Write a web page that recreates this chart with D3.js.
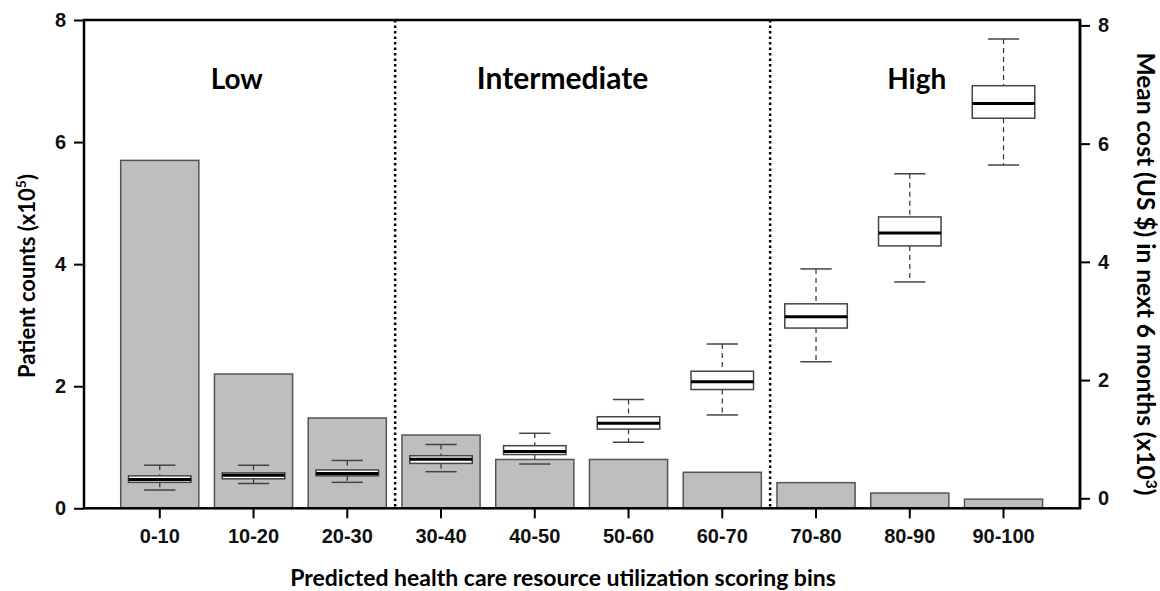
<!DOCTYPE html>
<html><head><meta charset="utf-8">
<script src="https://cdn.jsdelivr.net/npm/d3@7"></script>
<style>
html,body{margin:0;padding:0;background:#fff;}
svg{display:block;}
.ax{font-family:"Liberation Sans",Arial,sans-serif;font-weight:bold;font-size:20px;fill:#111;}
.ttl{font-family:Lato,"Open Sans",sans-serif;font-weight:bold;fill:#000;}
</style></head>
<body>
<script>
const categories = ["0-10","10-20","20-30","30-40","40-50","50-60","60-70","70-80","80-90","90-100"];
const patientCounts = [5.70, 2.20, 1.48, 1.20, 0.80, 0.80, 0.59, 0.42, 0.25, 0.15];
const costWhiskerLow = [0.14, 0.25, 0.27, 0.45, 0.58, 0.95, 1.41, 2.31, 3.66, 5.64];
const costQ1 =        [0.27, 0.33, 0.38, 0.59, 0.74, 1.17, 1.84, 2.88, 4.27, 6.43];
const costMedian =    [0.32, 0.39, 0.42, 0.66, 0.79, 1.27, 1.97, 3.07, 4.49, 6.68];
const costQ3 =        [0.38, 0.43, 0.48, 0.72, 0.89, 1.38, 2.15, 3.29, 4.76, 6.98];
const costWhiskerHigh = [0.56, 0.56, 0.64, 0.91, 1.10, 1.67, 2.61, 3.88, 5.49, 7.77];
const leftTicks = [0, 2, 4, 6, 8];
const rightTicks = [0, 2, 4, 6, 8];
const groups = ["Low", "Intermediate", "High"];
const dividerAfter = ["20-30", "60-70"];

const W = 1160, H = 591;
const svg = d3.select("body").append("svg").attr("width", W).attr("height", H);

const boxL = 84, boxR = 1080, boxT = 20, boxB = 508.3;
const x = d3.scaleBand().domain(categories).range([112.9, 1050.4]).paddingInner(1/6).paddingOuter(1/12);
const yL = d3.scaleLinear().domain([0, 8]).range([boxB, boxT]);
const yR = d3.scaleLinear().domain([0, 8]).range([498.3, 25.4]);

// bars
svg.append("g").selectAll("rect").data(categories).join("rect")
  .attr("x", d => x(d)).attr("width", x.bandwidth())
  .attr("y", (d, i) => yL(patientCounts[i]))
  .attr("height", (d, i) => yL(0) - yL(patientCounts[i]))
  .attr("fill", "#bebebe").attr("stroke", "#555").attr("stroke-width", 1.5);

// dividers
svg.append("g").selectAll("line").data(dividerAfter).join("line")
  .attr("x1", d => x(d) + x.step() * 0.5 + x.bandwidth() / 2 + 1)
  .attr("x2", d => x(d) + x.step() * 0.5 + x.bandwidth() / 2 + 1)
  .attr("y1", boxT).attr("y2", boxB)
  .attr("stroke", "#000").attr("stroke-width", 2.5).attr("stroke-dasharray", "2.5,3");

// box plots
const bw = x.bandwidth() * 0.8, sw = bw * 0.5;
const bg = svg.append("g").selectAll("g").data(categories).join("g")
  .attr("transform", d => `translate(${x(d) + x.bandwidth() / 2},0)`);
bg.append("line").attr("x1", 0).attr("x2", 0)
  .attr("y1", (d, i) => yR(costWhiskerHigh[i])).attr("y2", (d, i) => yR(costQ3[i]))
  .attr("stroke", "#333").attr("stroke-width", 1.2).attr("stroke-dasharray", "5,4");
bg.append("line").attr("x1", 0).attr("x2", 0)
  .attr("y1", (d, i) => yR(costQ1[i])).attr("y2", (d, i) => yR(costWhiskerLow[i]))
  .attr("stroke", "#333").attr("stroke-width", 1.2).attr("stroke-dasharray", "5,4");
bg.append("line").attr("x1", -sw / 2).attr("x2", sw / 2)
  .attr("y1", (d, i) => yR(costWhiskerHigh[i])).attr("y2", (d, i) => yR(costWhiskerHigh[i]))
  .attr("stroke", "#444").attr("stroke-width", 1.5);
bg.append("line").attr("x1", -sw / 2).attr("x2", sw / 2)
  .attr("y1", (d, i) => yR(costWhiskerLow[i])).attr("y2", (d, i) => yR(costWhiskerLow[i]))
  .attr("stroke", "#444").attr("stroke-width", 1.5);
bg.append("rect").attr("x", -bw / 2).attr("width", bw)
  .attr("y", (d, i) => yR(costQ3[i])).attr("height", (d, i) => yR(costQ1[i]) - yR(costQ3[i]))
  .attr("fill", "#fff").attr("stroke", "#444").attr("stroke-width", 1.5);
bg.append("line").attr("x1", -bw / 2).attr("x2", bw / 2)
  .attr("y1", (d, i) => yR(costMedian[i])).attr("y2", (d, i) => yR(costMedian[i]))
  .attr("stroke", "#000").attr("stroke-width", 3);

// frame
svg.append("rect").attr("x", boxL).attr("y", boxT).attr("width", boxR - boxL).attr("height", boxB - boxT)
  .attr("fill", "none").attr("stroke", "#000").attr("stroke-width", 2.5);

// left axis
const gl = svg.append("g").attr("class", "ax").attr("transform", `translate(${boxL},0)`)
  .call(d3.axisLeft(yL).tickValues(leftTicks).tickFormat(d3.format("d")).tickSize(10).tickPadding(8));
gl.select(".domain").remove();
gl.selectAll(".tick line").attr("stroke", "#000").attr("stroke-width", 2);
gl.selectAll("text").attr("class", "ax").attr("font-size", null).attr("font-family", null);

// right axis
const gr = svg.append("g").attr("class", "ax").attr("transform", `translate(${boxR},0)`)
  .call(d3.axisRight(yR).tickValues(rightTicks).tickFormat(d3.format("d")).tickSize(10).tickPadding(8));
gr.select(".domain").attr("stroke", "#000").attr("stroke-width", 2.5)
  .attr("d", `M0,${boxT}V${boxB}`);
gr.selectAll(".tick line").attr("stroke", "#000").attr("stroke-width", 2);
gr.selectAll("text").attr("class", "ax").attr("font-size", null).attr("font-family", null);

// bottom axis
const gb = svg.append("g").attr("class", "ax").attr("transform", `translate(0,${boxB})`)
  .call(d3.axisBottom(x).tickSize(10).tickPadding(11));
gb.select(".domain").remove();
gb.selectAll(".tick line").attr("stroke", "#000").attr("stroke-width", 2);
gb.selectAll("text").attr("class", "ax").attr("font-size", null).attr("font-family", null);

// group labels
const groupX = [236.7, 562.5, 916.7];
const groupSize = [28, 30, 28];
svg.append("g").selectAll("text").data(groups).join("text")
  .attr("class", "ttl").attr("font-size", (d, i) => groupSize[i])
  .attr("x", (d, i) => groupX[i]).attr("y", 89)
  .attr("text-anchor", "middle").text(d => d);

// axis titles
const lt = svg.append("text").attr("class", "ttl").attr("font-size", 22)
  .attr("transform", "translate(35,276) rotate(-90)").attr("text-anchor", "middle");
lt.append("tspan").text("Patient counts (x10");
lt.append("tspan").attr("font-size", 14).attr("dy", -9).text("5");
lt.append("tspan").attr("dy", 9).text(")");

const rt = svg.append("text").attr("class", "ttl").attr("font-size", 24.5)
  .attr("transform", "translate(1137,274) rotate(90)").attr("text-anchor", "middle");
rt.append("tspan").text("Mean cost (US $) in next 6 months (x10");
rt.append("tspan").attr("font-size", 15.5).attr("dy", -9).text("3");
rt.append("tspan").attr("dy", 9).text(")");

svg.append("text").attr("class", "ttl").attr("font-size", 23)
  .attr("x", 563).attr("y", 586).attr("text-anchor", "middle")
  .text("Predicted health care resource utilization scoring bins");
</script>
</body></html>
